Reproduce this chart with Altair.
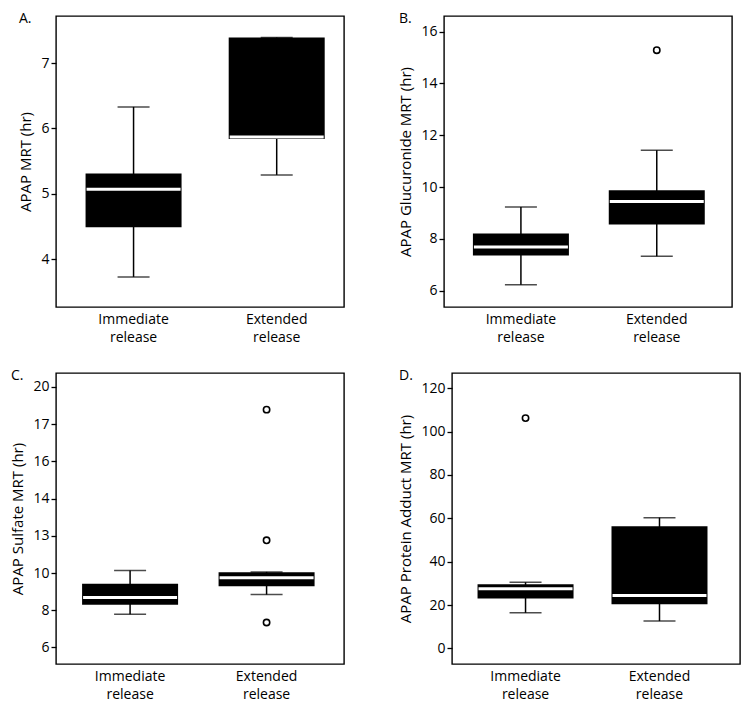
import altair as alt
import pandas as pd

categories = ["Immediate release", "Extended release"]

# Panel A: APAP MRT (hr)
a_lo = [3.73, 5.29]
a_q1 = [4.49, 5.84]
a_med = [5.07, 5.87]
a_q3 = [5.31, 7.39]
a_hi = [6.33, 7.39]
a_out_cat = []
a_out_val = []
a_ticks = [4, 5, 6, 7]
a_labels = ["4", "5", "6", "7"]

# Panel B: APAP Glucuronide MRT (hr)
b_lo = [6.23, 7.33]
b_q1 = [7.36, 8.55]
b_med = [7.69, 9.44]
b_q3 = [8.21, 9.88]
b_hi = [9.23, 11.42]
b_out_cat = ["Extended release"]
b_out_val = [15.28]
b_ticks = [6, 8, 10, 12, 14, 16]
b_labels = ["6", "8", "10", "12", "14", "16"]

# Panel C: APAP Sulfate MRT (hr)
c_lo = [7.79, 8.84]
c_q1 = [8.29, 9.29]
c_med = [8.68, 9.74]
c_q3 = [9.42, 10.04]
c_hi = [10.13, 10.06]
c_out_cat = ["Extended release", "Extended release", "Extended release"]
c_out_val = [18.78, 11.76, 7.34]
c_ticks = [6, 8, 10, 12, 14, 16, 18, 20]
c_labels = ["6", "8", "10", "13", "14", "16", "17", "20"]

# Panel D: APAP Protein Adduct MRT (hr)
d_lo = [16.4, 12.6]
d_q1 = [23.0, 20.4]
d_med = [27.5, 24.4]
d_q3 = [29.6, 56.3]
d_hi = [30.5, 60.3]
d_out_cat = ["Immediate release"]
d_out_val = [106.2]
d_ticks = [0, 20, 40, 60, 80, 100, 120]
d_labels = ["0", "20", "40", "60", "80", "100", "120"]

FONT = "Open Sans"


def label_expr(ticks, labels):
    expr = "datum.label"
    for v, l in reversed(list(zip(ticks, labels))):
        expr = f"datum.value == {v} ? '{l}' : ({expr})"
    return expr


def panel(letter, ytitle, lo, q1, med, q3, hi, out_cat, out_val, domain,
          ticks, labels, po, align):
    stats = pd.DataFrame({"cat": categories, "lo": lo, "q1": q1,
                          "med": med, "q3": q3, "hi": hi})
    outl = pd.DataFrame({"cat": out_cat, "val": out_val})
    xenc = alt.X("cat:N", sort=categories, title=None,
                 scale=alt.Scale(type="band", paddingInner=0.5,
                                 paddingOuter=po, align=align),
                 axis=alt.Axis(labelExpr="split(datum.label, ' ')",
                               labelAngle=0))
    yscale = alt.Scale(domain=domain, nice=False, zero=False)
    yaxis = alt.Axis(values=ticks, labelExpr=label_expr(ticks, labels),
                     titleFontSize=15, titleFont=FONT,
                     titleFontWeight="normal", titleColor="black")

    def Y(field):
        return alt.Y(field, scale=yscale, axis=yaxis, title=ytitle)

    base = alt.Chart(stats)
    whisk = base.mark_rule(color="black", strokeWidth=1.5).encode(
        x=xenc, y=Y("lo:Q"), y2="hi:Q")
    cap_lo = base.mark_tick(color="black", size=32, thickness=1.5).encode(
        x=xenc, y=Y("lo:Q"))
    cap_hi = base.mark_tick(color="black", size=32, thickness=1.5).encode(
        x=xenc, y=Y("hi:Q"))
    box = base.mark_bar(color="black", size=96).encode(
        x=xenc, y=Y("q1:Q"), y2="q3:Q")
    medl = base.mark_tick(color="white", size=94, thickness=3,
                          opacity=1).encode(x=xenc, y=Y("med:Q"))
    pts = alt.Chart(outl).mark_point(shape="circle", filled=False,
                                     color="black", size=40, strokeWidth=1.6,
                                     opacity=1).encode(x=xenc, y=Y("val:Q"))
    return alt.layer(whisk, cap_lo, cap_hi, box, medl, pts).properties(
        width=288, height=291,
        title=alt.TitleParams(letter, anchor="start", frame="bounds",
                              fontSize=14, fontWeight="normal", font=FONT,
                              color="black", offset=-10))


pa = panel("A.", "APAP MRT (hr)", a_lo, a_q1, a_med, a_q3, a_hi,
           a_out_cat, a_out_val, [3.27, 7.72], a_ticks, a_labels, 0.256, 0.57)
pb = panel("B.", "APAP Glucuronide MRT (hr)", b_lo, b_q1, b_med, b_q3, b_hi,
           b_out_cat, b_out_val, [5.37, 16.6], b_ticks, b_labels, 0.31, 0.51)
pc = panel("C.", "APAP Sulfate MRT (hr)", c_lo, c_q1, c_med, c_q3, c_hi,
           c_out_cat, c_out_val, [5.11, 20.75], c_ticks, c_labels, 0.305, 0.48)
pd_ = panel("D.", "APAP Protein Adduct MRT (hr)", d_lo, d_q1, d_med, d_q3, d_hi,
            d_out_cat, d_out_val, [-7.2, 127.0], d_ticks, d_labels, 0.325, 0.46)

chart = alt.vconcat(
    alt.hconcat(pa, pb, spacing=53),
    alt.hconcat(pc, pd_, spacing=53),
    spacing=23,
).properties(
    padding={"left": 2, "top": 3, "right": 0, "bottom": 0}
).configure_view(
    stroke="black", strokeWidth=1.4
).configure_axis(
    grid=False, domain=False, labelFont=FONT, labelFontSize=14,
    labelColor="black", titleFont=FONT, titleFontSize=15,
    titleFontWeight="normal", titleColor="black"
).configure_axisY(
    tickSize=5, tickWidth=1.3, tickColor="black", labelPadding=2,
    titlePadding=7
).configure_axisX(
    ticks=False, labelPadding=5, labelLineHeight=18
)

chart.save("out.html", embed_options={"renderer": "svg", "actions": False})
